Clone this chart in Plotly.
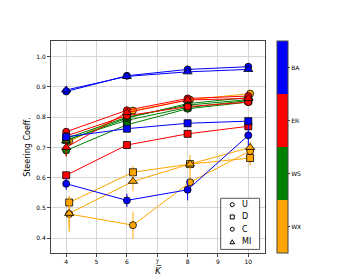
import plotly.graph_objects as go

# ---------------- data ----------------
K = [4, 6, 8, 10]
K_WX = [4.1, 6.2, 8.08, 10.06]

BA_U = [0.885, 0.937, 0.958, 0.967]
BA_D = [0.735, 0.762, 0.780, 0.787]
BA_C = [0.580, 0.525, 0.560, 0.740]
BA_MI = [0.890, 0.935, 0.950, 0.958]
BA_U_err = [0.006, 0.005, 0.005, 0.004]
BA_D_err = [0.006, 0.006, 0.005, 0.005]
BA_C_err = [0.020, 0.022, 0.035, 0.035]
BA_MI_err = [0.006, 0.005, 0.005, 0.004]

ER_U = [0.752, 0.823, 0.862, 0.870]
ER_D = [0.608, 0.708, 0.745, 0.770]
ER_C = [0.738, 0.805, 0.835, 0.850]
ER_MI = [0.700, 0.815, 0.857, 0.862]
ER_U_err = [0.008, 0.006, 0.005, 0.005]
ER_D_err = [0.008, 0.006, 0.005, 0.005]
ER_C_err = [0.010, 0.008, 0.006, 0.005]
ER_MI_err = [0.030, 0.010, 0.006, 0.006]

WS_U = [0.730, 0.800, 0.840, 0.858]
WS_D = [0.725, 0.790, 0.832, 0.855]
WS_C = [0.690, 0.775, 0.828, 0.850]
WS_MI = [0.722, 0.797, 0.845, 0.865]
WS_U_err = [0.008, 0.006, 0.005, 0.005]
WS_D_err = [0.008, 0.006, 0.005, 0.005]
WS_C_err = [0.020, 0.010, 0.006, 0.005]
WS_MI_err = [0.010, 0.008, 0.006, 0.006]

WX_U = [0.720, 0.822, 0.858, 0.878]
WX_D = [0.518, 0.618, 0.645, 0.665]
WX_C = [0.480, 0.443, 0.585, 0.688]
WX_MI = [0.482, 0.588, 0.645, 0.700]
WX_U_err = [0.010, 0.008, 0.006, 0.006]
WX_D_err = [0.020, 0.020, 0.015, 0.025]
WX_C_err = [0.060, 0.045, 0.030, 0.020]
WX_MI_err = [0.045, 0.033, 0.030, 0.020]

NETWORKS = ["BA", "ER", "WS", "WX"]
METRICS = ["U", "D", "C", "MI"]
COLORS = {"BA": "#0000ff", "ER": "#ff0000", "WS": "#008000", "WX": "#ffa500"}
SYMBOLS = {"U": "circle", "D": "square", "C": "circle", "MI": "triangle-up"}
SIZES = {"U": 7, "D": 7, "C": 7, "MI": 8}

DATA = {
    "BA": (K, {"U": (BA_U, BA_U_err), "D": (BA_D, BA_D_err), "C": (BA_C, BA_C_err), "MI": (BA_MI, BA_MI_err)}),
    "ER": (K, {"U": (ER_U, ER_U_err), "D": (ER_D, ER_D_err), "C": (ER_C, ER_C_err), "MI": (ER_MI, ER_MI_err)}),
    "WS": (K, {"U": (WS_U, WS_U_err), "D": (WS_D, WS_D_err), "C": (WS_C, WS_C_err), "MI": (WS_MI, WS_MI_err)}),
    "WX": (K_WX, {"U": (WX_U, WX_U_err), "D": (WX_D, WX_D_err), "C": (WX_C, WX_C_err), "MI": (WX_MI, WX_MI_err)}),
}

FONT = "DejaVu Sans"

fig = go.Figure()

for net in ["WX", "WS", "ER", "BA"]:
    xs, metrics = DATA[net]
    col = COLORS[net]
    for m in METRICS:
        ys, errs = metrics[m]
        fig.add_trace(go.Scatter(
            x=xs, y=ys, mode="lines+markers",
            line=dict(color=col, width=1),
            marker=dict(symbol=SYMBOLS[m], size=SIZES[m], color=col,
                        line=dict(color="black", width=0.8)),
            error_y=dict(type="data", array=errs, visible=True,
                         color=col, thickness=1, width=0),
            showlegend=False, hoverinfo="skip",
        ))

# discrete colorbar
fig.add_trace(go.Scatter(
    x=[None], y=[None], mode="markers", showlegend=False,
    marker=dict(
        color=[0], cmin=0, cmax=4,
        colorscale=[[0, COLORS["WX"]], [0.25, COLORS["WX"]],
                    [0.25, COLORS["WS"]], [0.5, COLORS["WS"]],
                    [0.5, COLORS["ER"]], [0.75, COLORS["ER"]],
                    [0.75, COLORS["BA"]], [1, COLORS["BA"]]],
        showscale=True,
        colorbar=dict(
            x=1.056, xanchor="left", y=0.5, yanchor="middle",
            len=1, lenmode="fraction", thickness=11, thicknessmode="pixels",
            xpad=0, ypad=0, outlinewidth=1, outlinecolor="#444",
            tickvals=[0.5, 1.5, 2.5, 3.5], ticktext=["WX", "WS", "ER", "BA"],
            ticks="outside", ticklen=2, tickwidth=1, tickcolor="#444",
            tickfont=dict(family=FONT, size=6, color="black"),
        ),
    ),
))

# compact hand-drawn legend (box + small hollow markers + labels)
LEG_BOX = dict(x0=0.793, x1=0.975, y0=0.017, y1=0.258)
LEG_ROW_Y = [0.228, 0.170, 0.112, 0.053]
LEG_MARK_X = 0.847
shapes = [dict(type="rect", xref="paper", yref="paper",
               x0=LEG_BOX["x0"], x1=LEG_BOX["x1"], y0=LEG_BOX["y0"], y1=LEG_BOX["y1"],
               line=dict(color="#555", width=1), fillcolor="rgba(255,255,255,0.85)",
               layer="above")]
annotations = []
for m, yy in zip(METRICS, LEG_ROW_Y):
    base = dict(xref="paper", yref="paper", xsizemode="pixel", ysizemode="pixel",
                xanchor=LEG_MARK_X, yanchor=yy, layer="above",
                line=dict(color="black", width=1), fillcolor="white")
    if SYMBOLS[m] == "circle":
        shapes.append(dict(type="circle", x0=-2, x1=2, y0=-2, y1=2, **base))
    elif SYMBOLS[m] == "square":
        shapes.append(dict(type="rect", x0=-2, x1=2, y0=-2, y1=2, **base))
    else:
        shapes.append(dict(type="path", path="M -2.3 -2 L 2.3 -2 L 0 2 Z", **base))
    annotations.append(dict(xref="paper", yref="paper", x=0.885, y=yy,
                            text=m, showarrow=False,
                            xanchor="left", yanchor="middle",
                            font=dict(family=FONT, size=8, color="black")))

fig.update_layout(
    width=344, height=278,
    margin=dict(l=43, r=87, t=33, b=31, pad=0),
    paper_bgcolor="white", plot_bgcolor="white",
    font=dict(family=FONT, color="black"),
    showlegend=False,
    shapes=shapes, annotations=annotations,
)

fig.update_xaxes(
    range=[3.5, 10.55], tickvals=[4, 5, 6, 7, 8, 9, 10],
    showgrid=True, gridcolor="#d6d6d6", gridwidth=1.3,
    showline=True, linecolor="#444", linewidth=1, mirror=True,
    ticks="outside", ticklen=3, tickcolor="#444",
    tickfont=dict(family=FONT, size=6), zeroline=False,
    title=dict(text="<i>K\u0305</i>", font=dict(family=FONT, size=9), standoff=2),
)
fig.update_yaxes(
    range=[0.351, 1.052], tickvals=[0.4, 0.5, 0.6, 0.7, 0.8, 0.9, 1.0],
    ticktext=["0.4", "0.5", "0.6", "0.7", "0.8", "0.9", "1.0"],
    showgrid=True, gridcolor="#d6d6d6", gridwidth=1.3,
    showline=True, linecolor="#444", linewidth=1, mirror=True,
    ticks="outside", ticklen=3, tickcolor="#444",
    tickfont=dict(family=FONT, size=6), zeroline=False,
    title=dict(text="Steering Coeff.", font=dict(family=FONT, size=8), standoff=4),
)

fig.write_html("out.html")
